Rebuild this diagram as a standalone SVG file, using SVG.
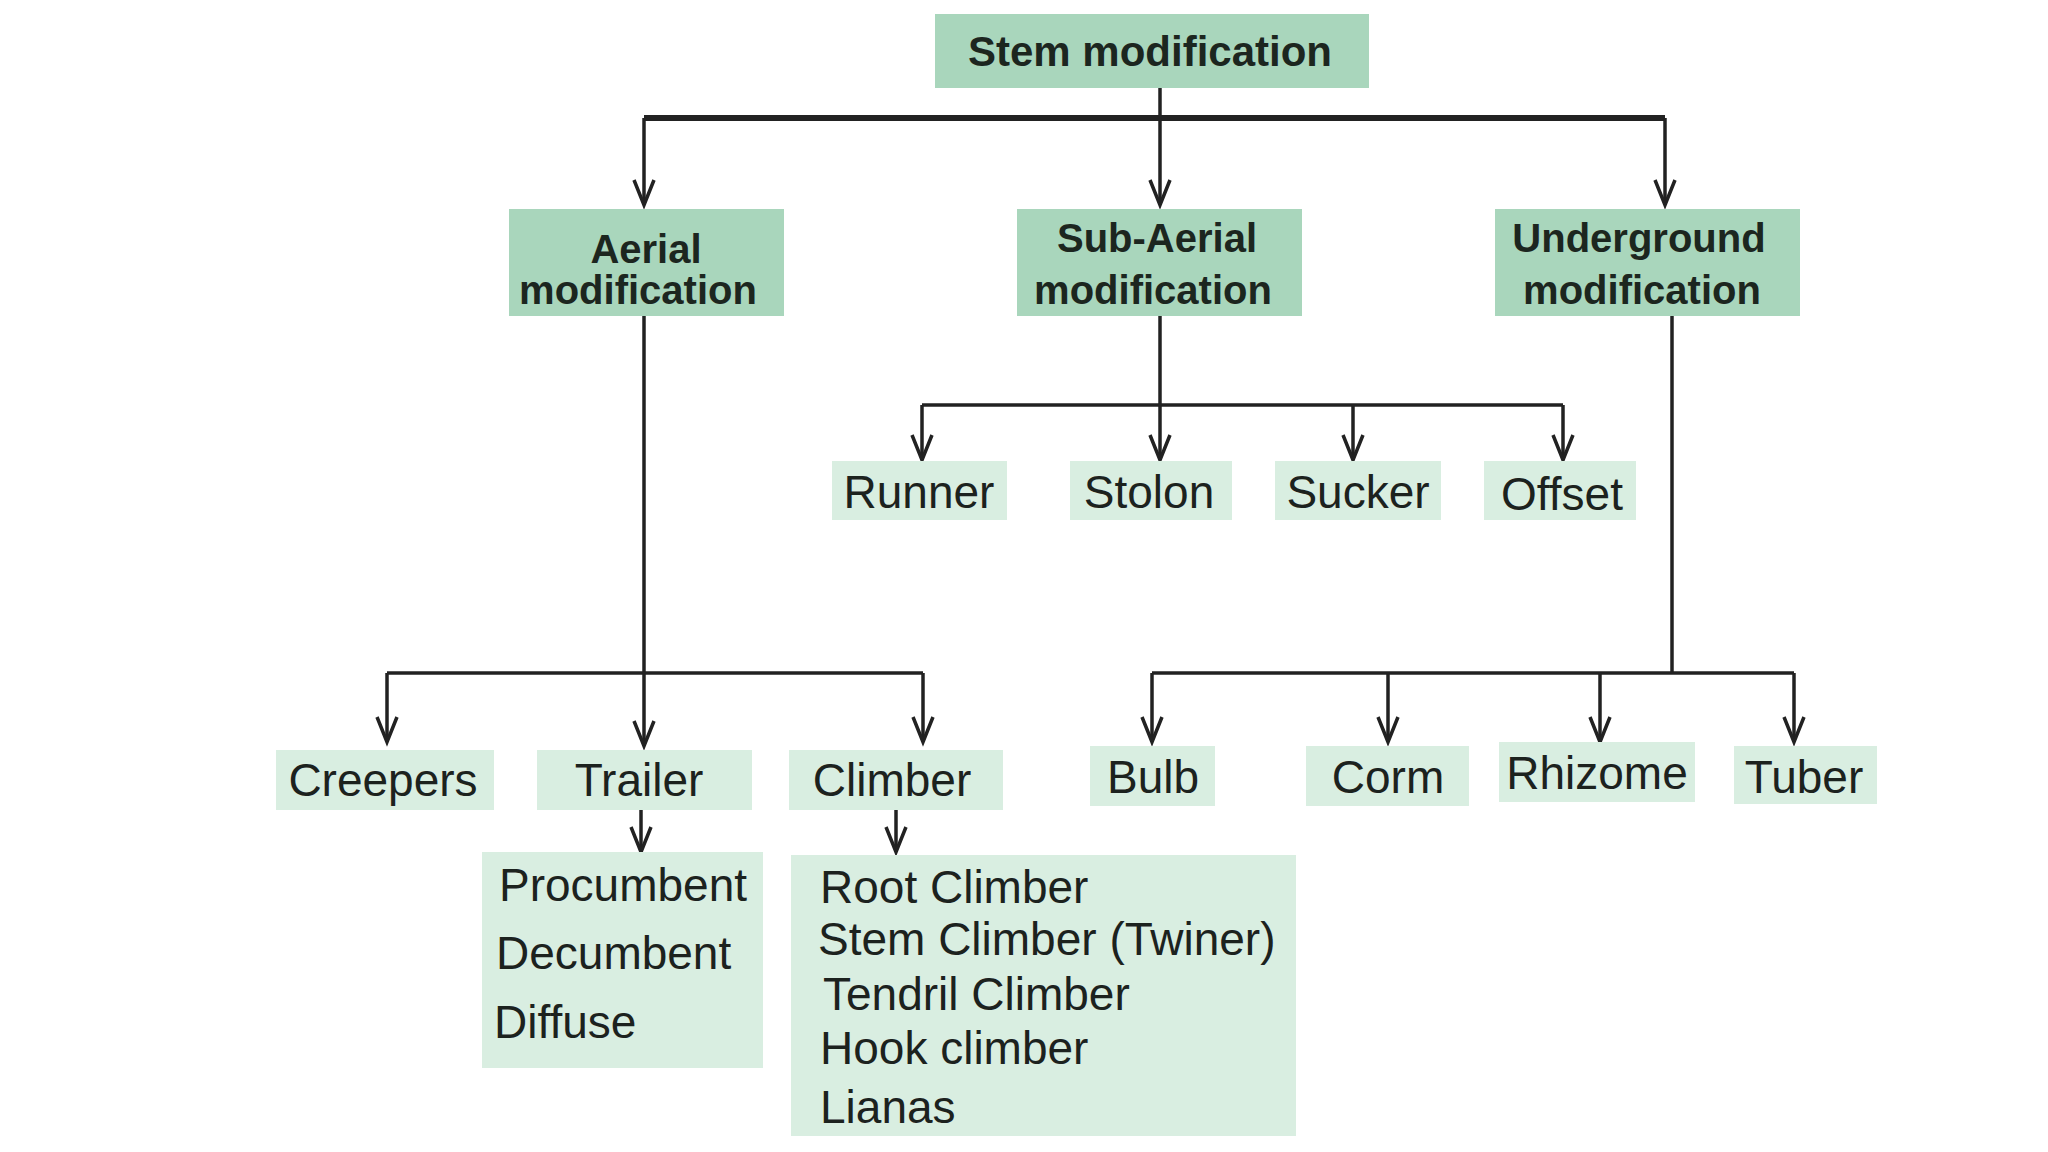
<svg xmlns="http://www.w3.org/2000/svg" width="2048" height="1152" viewBox="0 0 2048 1152">
<style>
.hd{fill:#a9d6bc}
.lf{fill:#d9eee1}
.ht{font-family:"Liberation Sans",Arial,sans-serif;font-weight:bold;font-size:40px;fill:#1c261f;text-anchor:middle}
.lt{font-family:"Liberation Sans",Arial,sans-serif;font-size:46px;fill:#1c221e;text-anchor:middle}
.st{font-family:"Liberation Sans",Arial,sans-serif;font-size:46px;fill:#1c221e}
.ln{fill:none;stroke:#222;stroke-width:3.5}
</style>
<defs>
<marker id="ar" markerUnits="userSpaceOnUse" markerWidth="30" markerHeight="30" refX="0" refY="0" orient="auto" overflow="visible">
<path d="M -25 -10 L 0 0 L -25 10" fill="none" stroke="#222" stroke-width="3.5"/>
</marker>
</defs>
<rect width="2048" height="1152" fill="#ffffff"/>
<g id="connectors">
<path class="ln" d="M1160 88 V118"/>
<path class="ln" d="M644 118 H1665" style="stroke-width:6"/>
<path class="ln" d="M644 118 V205" marker-end="url(#ar)"/>
<path class="ln" d="M1160 118 V205" marker-end="url(#ar)"/>
<path class="ln" d="M1665 118 V205" marker-end="url(#ar)"/>
<path class="ln" d="M1160 316 V405"/>
<path class="ln" d="M922 405 H1563"/>
<path class="ln" d="M922 405 V460" marker-end="url(#ar)"/>
<path class="ln" d="M1160 405 V460" marker-end="url(#ar)"/>
<path class="ln" d="M1353 405 V460" marker-end="url(#ar)"/>
<path class="ln" d="M1563 405 V460" marker-end="url(#ar)"/>
<path class="ln" d="M644 316 V673"/>
<path class="ln" d="M387 673 H923"/>
<path class="ln" d="M387 673 V742" marker-end="url(#ar)"/>
<path class="ln" d="M644 673 V746" marker-end="url(#ar)"/>
<path class="ln" d="M923 673 V742" marker-end="url(#ar)"/>
<path class="ln" d="M1672 316 V673"/>
<path class="ln" d="M1152 673 H1794"/>
<path class="ln" d="M1152 673 V742" marker-end="url(#ar)"/>
<path class="ln" d="M1388 673 V742" marker-end="url(#ar)"/>
<path class="ln" d="M1600 673 V742" marker-end="url(#ar)"/>
<path class="ln" d="M1794 673 V742" marker-end="url(#ar)"/>
<path class="ln" d="M641 810 V852" marker-end="url(#ar)"/>
<path class="ln" d="M896 810 V852" marker-end="url(#ar)"/>
</g>
<g id="stem"><rect class="hd" x="935" y="14" width="434" height="74"/><text class="ht" x="1150" y="66" style="font-size:42px">Stem modification</text></g>
<g id="aerial"><rect class="hd" x="509" y="209" width="275" height="107"/><text class="ht" x="646" y="263">Aerial</text><text class="ht" x="638" y="304">modification</text></g>
<g id="subaerial"><rect class="hd" x="1017" y="209" width="285" height="107"/><text class="ht" x="1157" y="252">Sub-Aerial</text><text class="ht" x="1153" y="304">modification</text></g>
<g id="underground"><rect class="hd" x="1495" y="209" width="305" height="107"/><text class="ht" x="1639" y="252">Underground</text><text class="ht" x="1642" y="304">modification</text></g>
<g id="runner"><rect class="lf" x="832" y="461" width="175" height="59"/><text class="lt" x="919" y="508">Runner</text></g>
<g id="stolon"><rect class="lf" x="1070" y="461" width="162" height="59"/><text class="lt" x="1149" y="508">Stolon</text></g>
<g id="sucker"><rect class="lf" x="1275" y="461" width="166" height="59"/><text class="lt" x="1358" y="508">Sucker</text></g>
<g id="offset"><rect class="lf" x="1484" y="461" width="152" height="59"/><text class="lt" x="1562" y="510">Offset</text></g>
<g id="creepers"><rect class="lf" x="276" y="750" width="218" height="60"/><text class="lt" x="383" y="796">Creepers</text></g>
<g id="trailer"><rect class="lf" x="537" y="750" width="215" height="60"/><text class="lt" x="639" y="796">Trailer</text></g>
<g id="climber"><rect class="lf" x="789" y="750" width="214" height="60"/><text class="lt" x="892" y="796">Climber</text></g>
<g id="bulb"><rect class="lf" x="1090" y="746" width="125" height="60"/><text class="lt" x="1153" y="793">Bulb</text></g>
<g id="corm"><rect class="lf" x="1306" y="746" width="163" height="60"/><text class="lt" x="1388" y="793">Corm</text></g>
<g id="rhizome"><rect class="lf" x="1499" y="742" width="196" height="60"/><text class="lt" x="1597" y="789">Rhizome</text></g>
<g id="tuber"><rect class="lf" x="1734" y="746" width="143" height="58"/><text class="lt" x="1804" y="793">Tuber</text></g>
<g id="trailer-types"><rect class="lf" x="482" y="852" width="281" height="216"/>
<text class="st" x="499" y="901">Procumbent</text><text class="st" x="496" y="969">Decumbent</text><text class="st" x="494" y="1038">Diffuse</text></g>
<g id="climber-types"><rect class="lf" x="791" y="855" width="505" height="281"/>
<text class="st" x="820" y="903">Root Climber</text><text class="st" x="818" y="955">Stem Climber (Twiner)</text><text class="st" x="823" y="1010">Tendril Climber</text><text class="st" x="820" y="1064">Hook climber</text><text class="st" x="820" y="1123">Lianas</text></g>
</svg>
